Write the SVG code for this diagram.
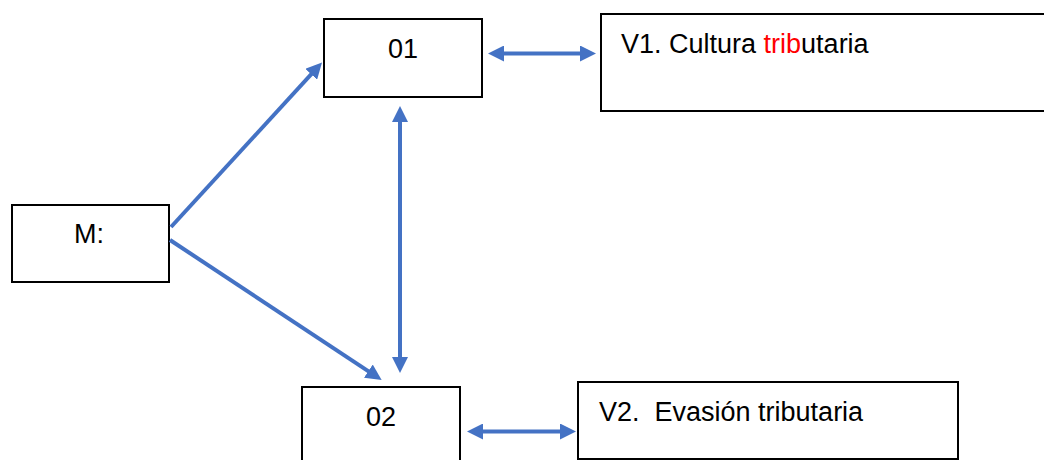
<svg xmlns="http://www.w3.org/2000/svg" width="1044" height="460" viewBox="0 0 1044 460">
  <style>
    .box { fill: #ffffff; stroke: #000000; stroke-width: 2; }
    .lbl { font-family: "Liberation Sans", Arial, sans-serif; font-size: 27px; fill: #000000; white-space: pre; }
    .red { fill: #ff0000; }
    .con { stroke: #4472C4; stroke-width: 4; fill: none; }
  </style>
  <defs>
    <marker id="ah" markerUnits="userSpaceOnUse" markerWidth="16" markerHeight="16" refX="8" refY="8" orient="auto-start-reverse" viewBox="0 0 16 16">
      <path d="M0,0 L16,8 L0,16 z" fill="#4472C4"/>
    </marker>
  </defs>
  <rect width="1044" height="460" fill="#ffffff"/>

  <g id="node-M">
    <rect class="box" x="12" y="205" width="157" height="77"/>
    <text class="lbl" x="74" y="243">M:</text>
  </g>
  <g id="node-01">
    <rect class="box" x="324" y="19" width="158" height="78"/>
    <text class="lbl" x="403" y="58" text-anchor="middle">01</text>
  </g>
  <g id="node-02">
    <rect class="box" x="302" y="387" width="158" height="80"/>
    <text class="lbl" x="381" y="426" text-anchor="middle">02</text>
  </g>
  <g id="node-V1">
    <rect class="box" x="601" y="14" width="460" height="97"/>
    <text class="lbl" x="621" y="53">V1. Cultura <tspan class="red">trib</tspan>utaria</text>
  </g>
  <g id="node-V2">
    <rect class="box" x="578" y="382" width="380" height="77"/>
    <text class="lbl" x="599" y="421">V2.  Evasión tributaria</text>
  </g>

  <g id="connectors">
    <line class="con" x1="171" y1="227" x2="316.6" y2="68.4" marker-end="url(#ah)"/>
    <line class="con" x1="170" y1="240" x2="375" y2="375.6" marker-end="url(#ah)"/>
    <line class="con" x1="400" y1="114" x2="400" y2="365" marker-start="url(#ah)" marker-end="url(#ah)"/>
    <line class="con" x1="496" y1="53.5" x2="588" y2="53.5" marker-start="url(#ah)" marker-end="url(#ah)"/>
    <line class="con" x1="475" y1="431.5" x2="568" y2="431.5" marker-start="url(#ah)" marker-end="url(#ah)"/>
  </g>
</svg>
